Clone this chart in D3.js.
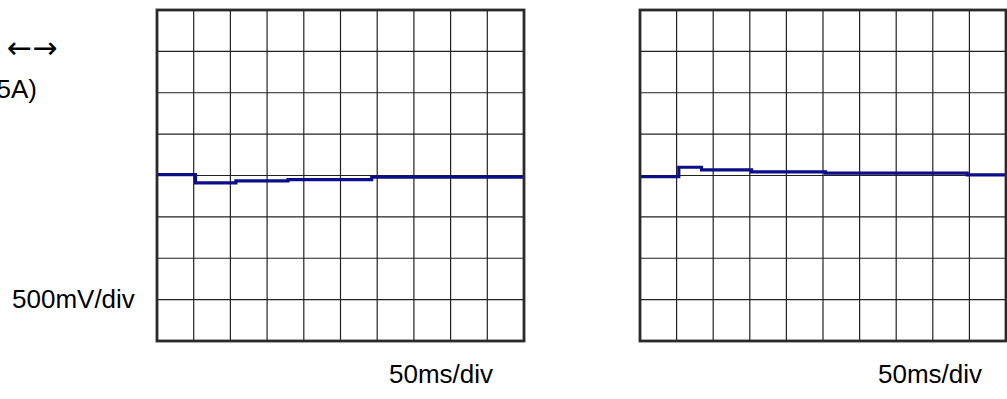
<!DOCTYPE html>
<html>
<head>
<meta charset="utf-8">
<script src="https://cdn.jsdelivr.net/npm/d3@7"></script>
<style>
    body { margin: 0; background: #fff; }
    svg { display: block; font-family: "Liberation Sans", Arial, sans-serif; }
</style>
</head>
<body>
<div id="chart"></div>
<script>
// Grid divisions (time x voltage)
const timeDivs = [0, 10];
const voltDivs = [-4, 4];

// Left trace: step times (div) and levels (div)
const leftTimes = [0, 1.05, 2.15, 3.57, 5.85, 10];
const leftLevels = [0.02, -0.18, -0.13, -0.1, -0.04, -0.04];

// Right trace
const rightTimes = [0, 1.06, 1.68, 3.05, 5.07, 8.94, 10];
const rightLevels = [-0.03, 0.2, 0.135, 0.087, 0.055, 0.015, 0.015];

const svg = d3.select('#chart')
    .append('svg')
    .attr('width', 1007)
    .attr('height', 399);

// Draw one scope panel
function drawPanel(left, width, times, levels) {
    const top = 10, height = 331;
    const g = svg.append('g').attr('transform', `translate(${left},${top})`);

    const x = d3.scaleLinear().domain(timeDivs).range([0, width]);
    const y = d3.scaleLinear().domain(voltDivs).range([height, 0]);

    // Grid lines
    g.selectAll('.vgrid')
        .data(d3.range(1, 10))
        .enter()
        .append('line')
        .attr('x1', d => x(d)).attr('x2', d => x(d))
        .attr('y1', 0).attr('y2', height)
        .attr('stroke', '#222')
        .attr('stroke-width', 1.2);

    g.selectAll('.hgrid')
        .data(d3.range(-3, 4))
        .enter()
        .append('line')
        .attr('x1', 0).attr('x2', width)
        .attr('y1', d => y(d)).attr('y2', d => y(d))
        .attr('stroke', '#222')
        .attr('stroke-width', 1.2);

    // Trace
    const data = times.map((t, i) => ({ t: t, v: levels[i] }));
    const line = d3.line()
        .x(d => x(d.t))
        .y(d => y(d.v))
        .curve(d3.curveStepAfter);

    g.append('path')
        .datum(data)
        .attr('d', line)
        .attr('fill', 'none')
        .attr('stroke', '#0d0d8a')
        .attr('stroke-width', 3.2);

    // Frame
    g.append('rect')
        .attr('x', 0).attr('y', 0)
        .attr('width', width).attr('height', height)
        .attr('fill', 'none')
        .attr('stroke', '#2a2a2a')
        .attr('stroke-width', 2.8);
}

drawPanel(157, 367, leftTimes, leftLevels);
drawPanel(640, 366, rightTimes, rightLevels);

// Labels
svg.append('text')
    .attr('x', 7).attr('y', 58)
    .style('font-family', '"DejaVu Sans", sans-serif')
    .style('font-size', '30px')
    .text('←→');

svg.append('text')
    .attr('x', 37).attr('y', 98)
    .attr('text-anchor', 'end')
    .style('font-size', '26px')
    .text('(5A)');

svg.append('text')
    .attr('x', 12).attr('y', 308)
    .style('font-size', '26px')
    .text('500mV/div');

svg.append('text')
    .attr('x', 389).attr('y', 383)
    .style('font-size', '26px')
    .text('50ms/div');

svg.append('text')
    .attr('x', 878).attr('y', 383)
    .style('font-size', '26px')
    .text('50ms/div');
</script>
</body>
</html>
